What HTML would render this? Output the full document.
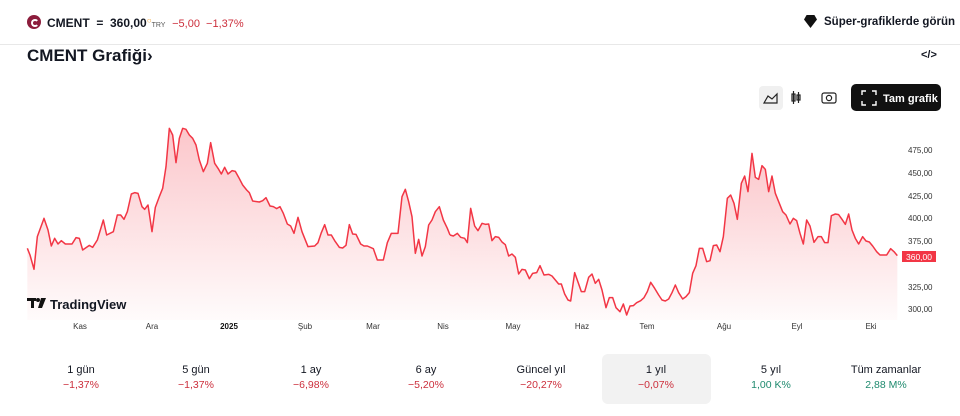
<!DOCTYPE html>
<html><head><meta charset="utf-8"><style>
body{margin:0;width:960px;height:416px;background:#fff;font-family:"Liberation Sans","DejaVu Sans",sans-serif;position:relative;overflow:hidden;color:#131722}
.a{position:absolute;white-space:nowrap}
.cell{position:absolute;top:354px;width:110px;height:50px;text-align:center;font-size:11px}
.cell .t{margin-top:10px;color:#131722}
.cell .v{margin-top:3px;font-size:10.5px}
.r{color:#cc2f3c}.g{color:#1e8a6e}
.xl{position:absolute;top:322px;font-size:8px;color:#333;transform:translateX(-50%)}
.yl{position:absolute;left:908px;font-size:8px;color:#333}
</style></head><body>
<div class="a" style="left:27px;top:15px;width:14px;height:14px;border-radius:50%;background:#8c1d3c"></div>
<div class="a" style="left:31px;top:19px;width:4px;height:4px;border:2px solid #fff;border-right-color:transparent;border-radius:50%"></div>
<div class="a" style="left:47px;top:16px;font-size:12px;font-weight:bold">CMENT &nbsp;=&nbsp; 360,00<span style="color:#f0a030;font-size:8px;vertical-align:top">○</span><span style="font-size:7px;font-weight:normal;color:#555">TRY</span> &nbsp;<span style="color:#cc2f3c;font-weight:normal;font-size:11px">−5,00 &nbsp;−1,37%</span></div>
<div class="a" style="left:804px;top:15px;width:13px;height:13px;background:#111;clip-path:polygon(50% 100%,0 35%,20% 0,80% 0,100% 35%)"></div>
<div class="a" style="left:824px;top:16px;font-size:11.5px;font-weight:bold">Süper-grafiklerde görün</div>
<div class="a" style="left:0;top:44px;width:960px;height:1px;background:#e8e8e8"></div>
<div class="a" style="left:27px;top:46px;font-size:17px;font-weight:bold">CMENT Grafiği›</div>
<div class="a" style="left:921px;top:49px;font-size:11px;font-weight:bold">&lt;/&gt;</div>
<div class="a" style="left:759px;top:86px;width:24px;height:24px;background:#f0f0f0;border-radius:4px"></div>
<svg class="a" style="left:0;top:0" width="960" height="416">
<path d="M764 103 L768 96 L772 99 L777 94 L777 103 Z" fill="none" stroke="#222" stroke-width="1.2"/>
<g stroke="#222" stroke-width="1.2" fill="none"><rect x="792" y="94" width="3" height="7"/><line x1="793.5" y1="91" x2="793.5" y2="104"/><rect x="797" y="95" width="3" height="5"/><line x1="798.5" y1="92" x2="798.5" y2="103"/>
<rect x="822" y="93" width="14" height="10" rx="2"/><circle cx="829" cy="98" r="2.6"/></g>
<rect x="851" y="84" width="90" height="27" rx="5" fill="#111"/>
<g stroke="#fff" stroke-width="1.4" fill="none"><path d="M862 95v-4h4M872 91h4v4M876 101v4h-4M866 105h-4v-4"/></g>
<text x="883" y="102" fill="#fff" font-size="11" font-weight="bold" font-family="Liberation Sans,sans-serif">Tam grafik</text>
<defs><linearGradient id="gr" x1="0" y1="0" x2="0" y2="1"><stop offset="0" stop-color="#f23645" stop-opacity=".28"/><stop offset="1" stop-color="#f23645" stop-opacity=".02"/></linearGradient></defs>
<g transform="translate(20,120) scale(0.33333)">
<path fill="url(#gr)" stroke="none" d="M22,385 L30,405 42,448 52,350 72,295 84,330 94,378 104,355 114,372 124,362 136,372 156,372 168,353 178,355 188,390 208,376 218,382 232,360 250,300 260,345 280,335 292,285 302,285 312,298 322,275 334,222 344,218 354,220 366,260 374,268 384,255 396,335 406,262 418,230 428,205 438,140 448,25 458,45 468,128 478,55 488,25 498,28 508,45 518,55 528,75 538,120 550,155 562,130 572,68 584,130 596,148 604,162 614,142 624,162 636,152 646,154 656,172 668,195 680,210 688,218 698,243 718,246 728,242 738,233 750,258 760,260 770,266 780,260 790,280 802,312 812,318 822,340 834,292 846,335 864,380 884,378 894,368 904,338 914,314 924,345 934,345 944,362 958,382 968,384 978,376 988,314 998,342 1008,343 1022,372 1032,378 1042,378 1060,386 1072,420 1090,420 1102,368 1114,340 1134,340 1146,230 1156,208 1166,245 1176,290 1186,400 1196,358 1206,408 1216,380 1226,315 1236,300 1246,275 1258,260 1270,300 1282,325 1290,345 1290,600 22,600Z"/>
<polyline fill="none" stroke="#f23645" stroke-width="4.5" stroke-linejoin="round" points="22,385 30,405 42,448 52,350 72,295 84,330 94,378 104,355 114,372 124,362 136,372 156,372 168,353 178,355 188,390 208,376 218,382 232,360 250,300 260,345 280,335 292,285 302,285 312,298 322,275 334,222 344,218 354,220 366,260 374,268 384,255 396,335 406,262 418,230 428,205 438,140 448,25 458,45 468,128 478,55 488,25 498,28 508,45 518,55 528,75 538,120 550,155 562,130 572,68 584,130 596,148 604,162 614,142 624,162 636,152 646,154 656,172 668,195 680,210 688,218 698,243 718,246 728,242 738,233 750,258 760,260 770,266 780,260 790,280 802,312 812,318 822,340 834,292 846,335 864,380 884,378 894,368 904,338 914,314 924,345 934,345 944,362 958,382 968,384 978,376 988,314 998,342 1008,343 1022,372 1032,378 1042,378 1060,386 1072,420 1090,420 1102,368 1114,340 1134,340 1146,230 1156,208 1166,245 1176,290 1186,400 1196,358 1206,408 1216,380 1226,315 1236,300 1246,275 1258,260 1270,300 1282,325 1290,345"/>
</g>
<g transform="translate(450,120) scale(0.33333)">
<path fill="url(#gr)" stroke="none" d="M0,345 L10,348 22,340 32,352 44,355 52,368 62,265 74,318 84,332 96,310 106,313 116,312 126,362 136,350 146,352 156,366 166,374 176,408 186,402 196,412 206,462 216,448 226,450 238,476 248,460 260,458 270,437 282,465 296,463 306,468 316,480 326,492 334,492 344,522 354,540 362,543 374,458 386,492 394,515 404,515 416,472 426,462 436,490 446,478 456,510 468,563 478,533 488,533 498,563 510,575 520,552 530,585 540,558 550,557 560,548 572,542 582,533 592,515 602,487 614,505 626,525 636,540 646,543 656,537 666,518 676,495 686,518 698,537 708,530 718,518 728,460 738,437 748,385 758,385 770,425 780,422 790,377 800,375 810,395 820,350 832,235 842,225 852,250 862,298 874,190 884,168 894,215 906,100 916,172 926,178 936,137 946,148 956,215 966,168 976,220 986,245 998,275 1008,285 1020,312 1030,295 1040,302 1050,340 1060,372 1070,300 1080,318 1092,367 1104,350 1114,350 1124,368 1134,368 1144,287 1156,282 1166,284 1176,298 1186,313 1196,282 1206,330 1216,355 1226,372 1238,350 1248,363 1258,366 1268,378 1280,395 1290,405 1310,405 1322,386 1332,395 1342,407 1342,600 0,600Z"/>
<polyline fill="none" stroke="#f23645" stroke-width="4.5" stroke-linejoin="round" points="0,345 10,348 22,340 32,352 44,355 52,368 62,265 74,318 84,332 96,310 106,313 116,312 126,362 136,350 146,352 156,366 166,374 176,408 186,402 196,412 206,462 216,448 226,450 238,476 248,460 260,458 270,437 282,465 296,463 306,468 316,480 326,492 334,492 344,522 354,540 362,543 374,458 386,492 394,515 404,515 416,472 426,462 436,490 446,478 456,510 468,563 478,533 488,533 498,563 510,575 520,552 530,585 540,558 550,557 560,548 572,542 582,533 592,515 602,487 614,505 626,525 636,540 646,543 656,537 666,518 676,495 686,518 698,537 708,530 718,518 728,460 738,437 748,385 758,385 770,425 780,422 790,377 800,375 810,395 820,350 832,235 842,225 852,250 862,298 874,190 884,168 894,215 906,100 916,172 926,178 936,137 946,148 956,215 966,168 976,220 986,245 998,275 1008,285 1020,312 1030,295 1040,302 1050,340 1060,372 1070,300 1080,318 1092,367 1104,350 1114,350 1124,368 1134,368 1144,287 1156,282 1166,284 1176,298 1186,313 1196,282 1206,330 1216,355 1226,372 1238,350 1248,363 1258,366 1268,378 1280,395 1290,405 1310,405 1322,386 1332,395 1342,407"/>
</g>
<rect x="902" y="251" width="34" height="11" fill="#f23645"/>
<text x="906" y="260" fill="#fff" font-size="8.5" font-family="Liberation Sans,sans-serif">360,00</text>
<g transform="translate(27,298)"><rect x="0" y="0" width="9" height="3" fill="#111"/><rect x="4" y="0" width="3" height="10" fill="#111"/><circle cx="11" cy="2" r="2" fill="#111"/><path d="M14 0h5l-4 10h-4z" fill="#111"/></g>
<text x="50" y="309" font-size="13" font-weight="bold" fill="#131722" font-family="Liberation Sans,sans-serif">TradingView</text>
</svg>
<div class="yl" style="top:146px">475,00</div><div class="yl" style="top:169px">450,00</div><div class="yl" style="top:192px">425,00</div><div class="yl" style="top:214px">400,00</div><div class="yl" style="top:237px">375,00</div><div class="yl" style="top:283px">325,00</div><div class="yl" style="top:305px">300,00</div>
<div class="xl" style="left:80px">Kas</div><div class="xl" style="left:152px">Ara</div><div class="xl" style="left:229px;font-weight:bold;color:#111">2025</div><div class="xl" style="left:305px">Şub</div><div class="xl" style="left:373px">Mar</div><div class="xl" style="left:443px">Nis</div><div class="xl" style="left:513px">May</div><div class="xl" style="left:582px">Haz</div><div class="xl" style="left:647px">Tem</div><div class="xl" style="left:724px">Ağu</div><div class="xl" style="left:797px">Eyl</div><div class="xl" style="left:871px">Eki</div>
<div class="a" style="left:602px;top:354px;width:109px;height:50px;background:#f2f2f2;border-radius:6px"></div>
<div class="cell" style="left:26px"><div class="t">1 gün</div><div class="v r">−1,37%</div></div>
<div class="cell" style="left:141px"><div class="t">5 gün</div><div class="v r">−1,37%</div></div>
<div class="cell" style="left:256px"><div class="t">1 ay</div><div class="v r">−6,98%</div></div>
<div class="cell" style="left:371px"><div class="t">6 ay</div><div class="v r">−5,20%</div></div>
<div class="cell" style="left:486px"><div class="t">Güncel yıl</div><div class="v r">−20,27%</div></div>
<div class="cell" style="left:601px"><div class="t">1 yıl</div><div class="v r">−0,07%</div></div>
<div class="cell" style="left:716px"><div class="t">5 yıl</div><div class="v g">1,00 K%</div></div>
<div class="cell" style="left:831px"><div class="t">Tüm zamanlar</div><div class="v g">2,88 M%</div></div>
</body></html>
